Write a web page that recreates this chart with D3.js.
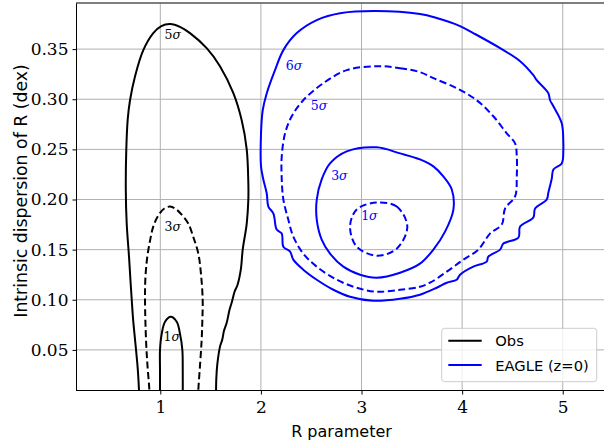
<!DOCTYPE html>
<html>
<head>
<meta charset="utf-8">
<script src="https://cdn.jsdelivr.net/npm/d3@7"></script>
<style>
  html, body { margin: 0; padding: 0; background: #fff; }
  svg { display: block; }
</style>
</head>
<body>
<svg id="chart" width="604" height="444"></svg>
<script>
// ---- Data (R parameter, intrinsic dispersion) ----
const xTicks = [1, 2, 3, 4, 5];
const yTicks = [0.05, 0.10, 0.15, 0.20, 0.25, 0.30, 0.35];

const obs5 = [[0.79,0.00],[0.788,0.010],[0.780,0.025],[0.771,0.037],[0.749,0.060],[0.730,0.080],[0.716,0.100],[0.700,0.125],[0.689,0.143],[0.666,0.176],[0.657,0.210],[0.662,0.250],[0.676,0.280],[0.699,0.299],[0.749,0.323],[0.831,0.349],[0.930,0.366],[1.010,0.373],[1.098,0.375],[1.200,0.372],[1.295,0.366],[1.461,0.351],[1.593,0.333],[1.726,0.306],[1.809,0.279],[1.859,0.250],[1.875,0.216],[1.875,0.200],[1.859,0.176],[1.819,0.150],[1.800,0.130],[1.768,0.115],[1.738,0.108],[1.712,0.098],[1.688,0.090],[1.660,0.077],[1.633,0.069],[1.615,0.060],[1.595,0.054],[1.567,0.036],[1.556,0.020],[1.554,0.000]];
const obs3 = [[0.891,0.000],[0.891,0.010],[0.872,0.035],[0.858,0.060],[0.848,0.100],[0.852,0.122],[0.871,0.143],[0.900,0.160],[0.930,0.173],[0.980,0.184],[1.040,0.191],[1.098,0.193],[1.160,0.190],[1.220,0.184],[1.278,0.176],[1.330,0.162],[1.378,0.146],[1.405,0.125],[1.421,0.100],[1.418,0.080],[1.411,0.060],[1.395,0.035],[1.378,0.010],[1.376,0.000]];
const obs1 = [[0.997,0.000],[0.997,0.030],[0.997,0.050],[1.014,0.066],[1.047,0.078],[1.103,0.083],[1.163,0.078],[1.196,0.066],[1.219,0.050],[1.223,0.030],[1.223,0.000]];

const eagle6 = [[3.14,0.388],[3.581,0.385],[3.747,0.381],[3.979,0.373],[4.111,0.366],[4.377,0.351],[4.576,0.338],[4.708,0.324],[4.741,0.319],[4.857,0.306],[4.874,0.299],[4.907,0.293],[4.990,0.276],[5.006,0.256],[5.006,0.250],[4.990,0.236],[4.907,0.230],[4.891,0.221],[4.857,0.207],[4.841,0.200],[4.725,0.191],[4.708,0.182],[4.576,0.173],[4.559,0.162],[4.410,0.156],[4.377,0.150],[4.260,0.143],[4.244,0.138],[4.111,0.133],[3.979,0.125],[3.946,0.120],[3.847,0.117],[3.747,0.112],[3.581,0.105],[3.383,0.101],[3.117,0.099],[2.886,0.103],[2.720,0.110],[2.555,0.120],[2.421,0.130],[2.322,0.140],[2.290,0.148],[2.223,0.153],[2.207,0.166],[2.157,0.170],[2.124,0.186],[2.074,0.193],[2.058,0.206],[2.024,0.220],[2.001,0.233],[2.001,0.266],[2.018,0.289],[2.058,0.306],[2.140,0.329],[2.223,0.349],[2.356,0.366],[2.555,0.379],[2.800,0.386]];
const eagle5 = [[3.151,0.333],[3.383,0.331],[3.581,0.327],[3.714,0.321],[3.946,0.311],[4.145,0.299],[4.310,0.283],[4.443,0.266],[4.526,0.256],[4.543,0.243],[4.543,0.223],[4.526,0.203],[4.427,0.191],[4.394,0.175],[4.277,0.166],[4.161,0.150],[4.012,0.140],[3.847,0.128],[3.681,0.117],[3.581,0.113],[3.383,0.110],[3.151,0.108],[2.952,0.112],[2.754,0.120],[2.555,0.133],[2.421,0.146],[2.322,0.163],[2.272,0.180],[2.223,0.200],[2.207,0.220],[2.207,0.243],[2.240,0.266],[2.306,0.283],[2.421,0.299],[2.620,0.316],[2.853,0.329]];
const eagle3 = [[3.151,0.252],[3.383,0.246],[3.581,0.240],[3.714,0.233],[3.813,0.223],[3.897,0.210],[3.913,0.190],[3.830,0.168],[3.714,0.150],[3.581,0.136],[3.383,0.127],[3.151,0.122],[2.985,0.125],[2.819,0.133],[2.687,0.146],[2.604,0.160],[2.555,0.180],[2.555,0.200],[2.604,0.220],[2.687,0.236],[2.853,0.248]];
const eagle1 = [[3.151,0.197],[3.350,0.193],[3.455,0.173],[3.350,0.151],[3.151,0.144],[2.952,0.153],[2.886,0.173],[2.952,0.190]];

const contourLabels = [
  {text: "5", x: 1.123, y: 0.365, color: "#000"},
  {text: "3", x: 1.123, y: 0.174, color: "#000"},
  {text: "1", x: 1.113, y: 0.064, color: "#000"},
  {text: "6", x: 2.329, y: 0.334, color: "#0000ff"},
  {text: "5", x: 2.578, y: 0.294, color: "#0000ff"},
  {text: "3", x: 2.780, y: 0.224, color: "#0000ff"},
  {text: "1", x: 3.078, y: 0.185, color: "#0000ff"}
];
const legendItems = [
  {label: "Obs", color: "#000"},
  {label: "EAGLE (z=0)", color: "#0000ff"}
];

// ---- Layout ----
const svg = d3.select("#chart");
const pL = 77, pR = 604, pT = 3, pB = 390;
const x = d3.scaleLinear().domain([0.172, 5.41]).range([pL, pR]);
const y = d3.scaleLinear().domain([0.010, 0.396]).range([pB, pT]);

svg.append("defs").append("clipPath").attr("id", "clip")
  .append("rect").attr("x", pL).attr("y", pT).attr("width", pR - pL).attr("height", pB - pT);

// Grid
const grid = svg.append("g");
grid.selectAll(".gx").data(xTicks).enter().append("line")
  .attr("x1", d => x(d)).attr("x2", d => x(d)).attr("y1", pT).attr("y2", pB)
  .attr("stroke", "#b0b0b0").attr("stroke-width", 1);
grid.selectAll(".gy").data(yTicks).enter().append("line")
  .attr("x1", pL).attr("x2", pR).attr("y1", d => y(d)).attr("y2", d => y(d))
  .attr("stroke", "#b0b0b0").attr("stroke-width", 1);

// Contours
const plot = svg.append("g").attr("clip-path", "url(#clip)");
const openLine = d3.line().x(d => x(d[0])).y(d => y(d[1])).curve(d3.curveCatmullRom.alpha(0.5));
const closedLine = d3.line().x(d => x(d[0])).y(d => y(d[1])).curve(d3.curveCatmullRomClosed.alpha(0.5));

const contours = [
  {data: obs5, color: "#000", dash: null, closed: false},
  {data: obs3, color: "#000", dash: "7,3.5", closed: false},
  {data: obs1, color: "#000", dash: null, closed: false},
  {data: eagle6, color: "#0000ff", dash: null, closed: true},
  {data: eagle5, color: "#0000ff", dash: "7,3.5", closed: true},
  {data: eagle3, color: "#0000ff", dash: null, closed: true},
  {data: eagle1, color: "#0000ff", dash: "7,3.5", closed: true}
];
contours.forEach(c => {
  plot.append("path")
    .attr("d", (c.closed ? closedLine : openLine)(c.data))
    .attr("fill", "none")
    .attr("stroke", c.color)
    .attr("stroke-width", 2)
    .attr("stroke-linejoin", "round")
    .attr("stroke-dasharray", c.dash);
});

// Contour labels
contourLabels.forEach(l => {
  const t = plot.append("text")
    .attr("x", x(l.x)).attr("y", y(l.y))
    .attr("text-anchor", "middle").attr("dominant-baseline", "central")
    .attr("font-family", "DejaVu Serif").attr("font-size", 12.5)
    .attr("fill", l.color);
  t.append("tspan").text(l.text);
  t.append("tspan").attr("font-style", "italic").text("σ");
});

// Spines
svg.append("line").attr("x1", pL).attr("x2", pR).attr("y1", pB + 0.5).attr("y2", pB + 0.5)
  .attr("stroke", "#000").attr("stroke-width", 1);
svg.append("line").attr("x1", pL - 0.5).attr("x2", pL - 0.5).attr("y1", pT).attr("y2", pB + 1)
  .attr("stroke", "#000").attr("stroke-width", 1);
svg.append("line").attr("x1", pL - 1).attr("x2", pR).attr("y1", pT).attr("y2", pT)
  .attr("stroke", "#555").attr("stroke-width", 1.6);

// Axes
const xAxis = d3.axisBottom(x).tickValues(xTicks).tickFormat(d3.format("d")).tickSize(3.5).tickPadding(6);
const gx = svg.append("g").attr("transform", `translate(0,${pB + 1})`).call(xAxis);
gx.select(".domain").remove();
gx.selectAll("text").attr("font-family", "DejaVu Serif").attr("font-size", 17).attr("fill", "#000");

const yAxis = d3.axisLeft(y).tickValues(yTicks).tickFormat(d3.format(".2f")).tickSize(3.5).tickPadding(4);
const gy = svg.append("g").attr("transform", `translate(${pL - 1},0)`).call(yAxis);
gy.select(".domain").remove();
gy.selectAll("text").attr("font-family", "DejaVu Serif").attr("font-size", 17).attr("fill", "#000");

// Axis labels
svg.append("text").attr("x", 341.5).attr("y", 436.5).attr("text-anchor", "middle")
  .attr("font-family", "DejaVu Sans").attr("font-size", 16).text("R parameter");
svg.append("text").attr("transform", "translate(21,191) rotate(-90)")
  .attr("text-anchor", "middle").attr("dominant-baseline", "central")
  .attr("font-family", "DejaVu Sans").attr("font-size", 17.3).text("Intrinsic dispersion of R (dex)");

// Legend
const lg = svg.append("g");
lg.append("rect").attr("x", 441.7).attr("y", 328.3).attr("width", 155).attr("height", 53.4)
  .attr("rx", 3).attr("fill", "#fff").attr("fill-opacity", 0.8).attr("stroke", "#cccccc").attr("stroke-width", 1);
legendItems.forEach((it, i) => {
  const cy = 340.7 + i * 24.3;
  lg.append("line").attr("x1", 448.3).attr("x2", 481.7).attr("y1", cy).attr("y2", cy)
    .attr("stroke", it.color).attr("stroke-width", 2);
  lg.append("text").attr("x", 495.3).attr("y", cy).attr("dominant-baseline", "central")
    .attr("font-family", "DejaVu Sans").attr("font-size", 14.7).text(it.label);
});
</script>
</body>
</html>
